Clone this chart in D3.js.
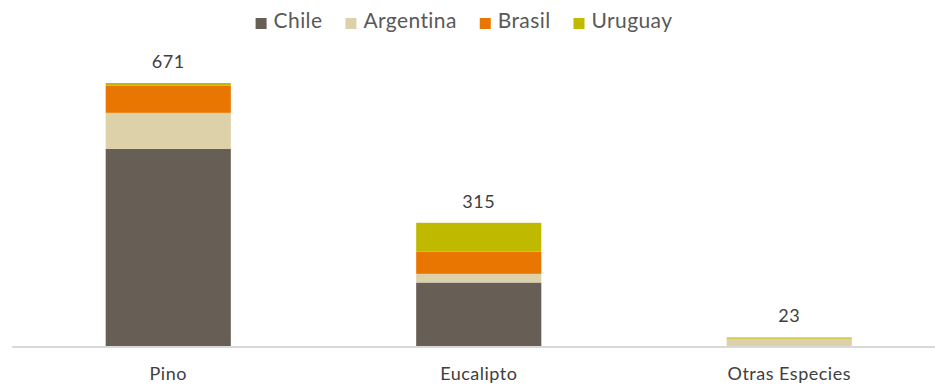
<!DOCTYPE html>
<html>
<head>
<meta charset="utf-8">
<script src="https://cdn.jsdelivr.net/npm/d3@7"></script>
<style>
  html, body { margin: 0; padding: 0; background: #fff; }
  svg { display: block; font-family: Lato, "Open Sans", sans-serif; }
</style>
</head>
<body>
<svg id="chart" width="935" height="387"></svg>
<script>
// Species (categories) and volume by country
const categories = ["Pino", "Eucalipto", "Otras Especies"];
const seriesNames = ["Chile", "Argentina", "Brasil", "Uruguay"];
const chile     = [503, 163, 0];
const argentina = [92, 22, 20];
const brasil    = [69, 57, 0];
const uruguay   = [7, 73, 3];
const totals    = [671, 315, 23];
const colors    = ["#675e55", "#ddd1a9", "#e97600", "#bfba00"];

const rows = categories.map((c, i) => ({
  category: c,
  Chile: chile[i], Argentina: argentina[i], Brasil: brasil[i], Uruguay: uruguay[i],
  total: totals[i]
}));

const svg = d3.select("#chart");
const W = 935, H = 387;
const baseY = 346.5;

const x = d3.scaleBand()
  .domain(categories)
  .range([13, 944.5])
  .paddingInner(0.597)
  .paddingOuter(0.2985);

const y = d3.scaleLinear()
  .domain([0, 671])
  .range([baseY, 83]);

const color = d3.scaleOrdinal().domain(seriesNames).range(colors);

const stacked = d3.stack().keys(seriesNames)(rows);

// stacked bars
svg.append("g")
  .selectAll("g")
  .data(stacked)
  .join("g")
  .attr("fill", d => color(d.key))
  .selectAll("rect")
  .data(d => d)
  .join("rect")
  .attr("x", d => x(d.data.category))
  .attr("width", x.bandwidth())
  .attr("y", d => y(d[1]))
  .attr("height", d => Math.max(0, y(d[0]) - y(d[1])));

// category axis
const axis = svg.append("g")
  .attr("transform", `translate(0,${baseY})`)
  .call(d3.axisBottom(x).tickSize(0).tickPadding(21));
axis.select(".domain").remove();
axis.append("line")
  .attr("x1", 12).attr("x2", W)
  .attr("y1", 0.5).attr("y2", 0.5)
  .attr("stroke", "#d9d9d9")
  .attr("stroke-width", 2);
axis.selectAll(".tick text")
  .attr("font-family", "Lato, 'Open Sans', sans-serif")
  .attr("font-size", 18)
  .attr("letter-spacing", 0.5)
  .attr("fill", "#404040");

// total labels
svg.append("g")
  .selectAll("text")
  .data(rows)
  .join("text")
  .attr("x", d => x(d.category) + x.bandwidth() / 2)
  .attr("y", d => y(d.total) - 15)
  .attr("text-anchor", "middle")
  .attr("font-size", 18)
  .attr("letter-spacing", 0.5)
  .attr("fill", "#404040")
  .text(d => d.total);

// legend
const legend = svg.append("g").attr("transform", "translate(0,29)");
const items = legend.selectAll("g")
  .data(seriesNames)
  .join("g");
items.append("rect")
  .attr("y", -11)
  .attr("width", 11)
  .attr("height", 11)
  .attr("fill", d => color(d));
items.append("text")
  .attr("x", 18)
  .attr("y", -1)
  .attr("font-size", 21)
  .attr("letter-spacing", 0.4)
  .attr("fill", "#595959")
  .text(d => d);

const gap = 23;
const widths = [];
items.each(function () {
  widths.push(18 + this.querySelector("text").getComputedTextLength());
});
const totalW = d3.sum(widths) + gap * (widths.length - 1);
let cursor = 464 - totalW / 2;
items.attr("transform", (d, i) => {
  const t = `translate(${cursor},0)`;
  cursor += widths[i] + gap;
  return t;
});
</script>
</body>
</html>
